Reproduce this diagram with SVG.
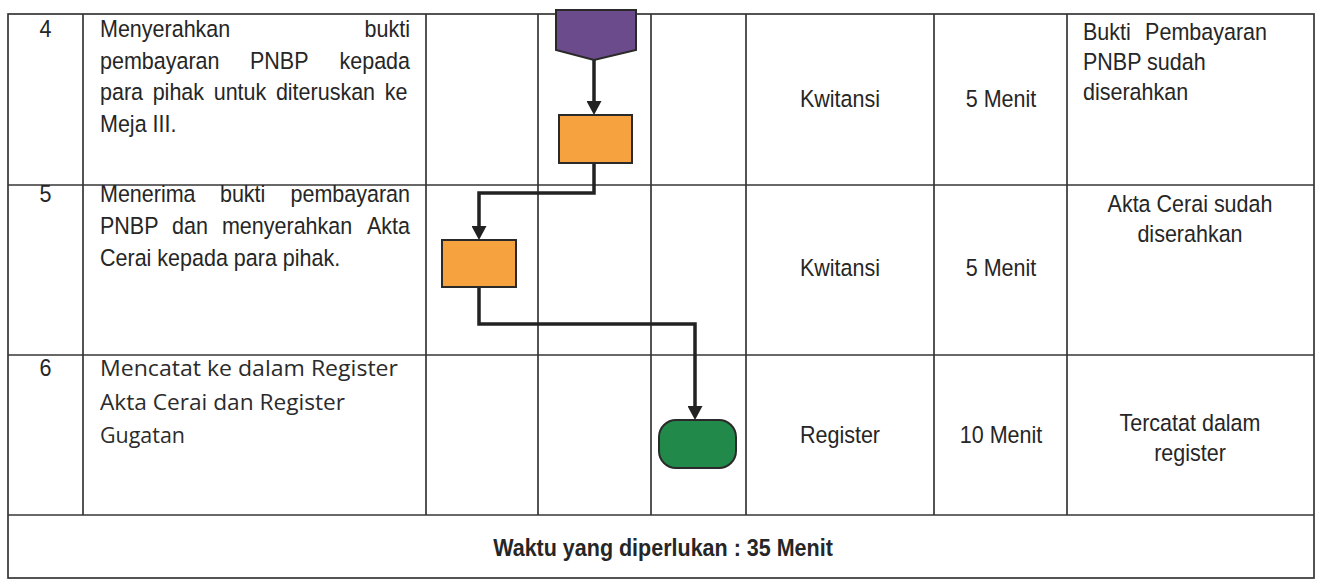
<svg xmlns="http://www.w3.org/2000/svg" width="1320" height="579" viewBox="0 0 1320 579">
<style>
.grid{stroke:#363636;stroke-width:1.7;fill:none}
.t{font-family:"Liberation Sans",Arial,sans-serif;font-size:23.5px;fill:#262626}
.c{text-anchor:middle}
.e{text-anchor:end}
.b{font-weight:bold}
.cal{font-family:"Open Sans","Noto Sans",sans-serif;font-size:21px;fill:#2b2b2b}
.conn{stroke:#222;stroke-width:3.5;fill:none;stroke-linejoin:miter}
.node{stroke:#2a2a2a;stroke-width:2}
</style>
<defs>
<marker id="arr" viewBox="0 0 14 15" refX="0" refY="7.5" markerWidth="14" markerHeight="15" markerUnits="userSpaceOnUse" orient="auto">
<path d="M0,0 L14,7.5 L0,15 z" fill="#222"/>
</marker>
</defs>
<rect width="1320" height="579" fill="#ffffff"/>
<g id="table">
<rect class="grid" x="8" y="14" width="1306" height="564"/>
<line class="grid" x1="8" y1="185" x2="1314" y2="185"/>
<line class="grid" x1="8" y1="355" x2="1314" y2="355"/>
<line class="grid" x1="8" y1="515" x2="1314" y2="515"/>
<line class="grid" x1="83" y1="14" x2="83" y2="515"/>
<line class="grid" x1="426" y1="14" x2="426" y2="515"/>
<line class="grid" x1="538" y1="14" x2="538" y2="515"/>
<line class="grid" x1="651" y1="14" x2="651" y2="515"/>
<line class="grid" x1="746" y1="14" x2="746" y2="515"/>
<line class="grid" x1="934" y1="14" x2="934" y2="515"/>
<line class="grid" x1="1067" y1="14" x2="1067" y2="515"/>
</g>
<g id="row4-text">
<text class="t c" transform="matrix(0.915,0,0,1,3.87,0)" x="45.5" y="37">4</text>
<text class="t" transform="matrix(0.915,0,0,1,8.5,0)" y="37"><tspan x="100">Menyerahkan</tspan><tspan x="438.8" text-anchor="end">bukti</tspan></text>
<text class="t" transform="matrix(0.915,0,0,1,8.5,0)" y="69"><tspan x="100">pembayaran</tspan><tspan x="263.9">PNBP</tspan><tspan x="438.8" text-anchor="end">kepada</tspan></text>
<text class="t" transform="matrix(0.915,0,0,1,8.5,0)" x="100" y="100" word-spacing="4">para pihak untuk diteruskan ke</text>
<text class="t" transform="matrix(0.915,0,0,1,8.5,0)" x="100" y="132">Meja III.</text>
<text class="t c" transform="matrix(0.915,0,0,1,71.4,0)" x="840" y="107">Kwitansi</text>
<text class="t c" transform="matrix(0.915,0,0,1,85.085,0)" x="1001" y="107">5 Menit</text>
<text class="t" transform="matrix(0.915,0,0,1,92.055,0)" y="40"><tspan x="1083">Bukti</tspan><tspan x="1284.1" text-anchor="end">Pembayaran</tspan></text>
<text class="t" transform="matrix(0.915,0,0,1,92.055,0)" x="1083" y="70">PNBP sudah</text>
<text class="t" transform="matrix(0.915,0,0,1,92.055,0)" x="1083" y="100">diserahkan</text>
</g>
<g id="row5-text">
<text class="t c" transform="matrix(0.915,0,0,1,3.87,0)" x="45.5" y="202">5</text>
<text class="t" transform="matrix(0.915,0,0,1,8.5,0)" y="202"><tspan x="100">Menerima</tspan><tspan x="231.1">bukti</tspan><tspan x="438.8" text-anchor="end">pembayaran</tspan></text>
<text class="t" transform="matrix(0.915,0,0,1,8.5,0)" y="234"><tspan x="100">PNBP</tspan><tspan x="178.7">dan</tspan><tspan x="233.3">menyerahkan</tspan><tspan x="438.8" text-anchor="end">Akta</tspan></text>
<text class="t" transform="matrix(0.915,0,0,1,8.5,0)" x="100" y="266">Cerai kepada para pihak.</text>
<text class="t c" transform="matrix(0.915,0,0,1,71.4,0)" x="840" y="276">Kwitansi</text>
<text class="t c" transform="matrix(0.915,0,0,1,85.085,0)" x="1001" y="276">5 Menit</text>
<text class="t c" transform="matrix(0.915,0,0,1,101.15,0)" x="1190" y="212">Akta Cerai sudah</text>
<text class="t c" transform="matrix(0.915,0,0,1,101.15,0)" x="1190" y="242">diserahkan</text>
</g>
<g id="row6-text">
<text class="t c" transform="matrix(0.915,0,0,1,3.87,0)" x="45.5" y="376">6</text>
<text class="cal" x="100" y="376" textLength="298" lengthAdjust="spacingAndGlyphs">Mencatat ke dalam Register</text>
<text class="cal" x="100" y="410" textLength="245" lengthAdjust="spacingAndGlyphs">Akta Cerai dan Register</text>
<text class="cal" x="100" y="443" textLength="85" lengthAdjust="spacingAndGlyphs">Gugatan</text>
<text class="t c" transform="matrix(0.915,0,0,1,71.4,0)" x="840" y="443">Register</text>
<text class="t c" transform="matrix(0.915,0,0,1,85.085,0)" x="1001" y="443">10 Menit</text>
<text class="t c" transform="matrix(0.915,0,0,1,101.15,0)" x="1190" y="431">Tercatat dalam</text>
<text class="t c" transform="matrix(0.915,0,0,1,101.15,0)" x="1190" y="461">register</text>
</g>
<g id="total">
<text class="t c b" transform="matrix(0.915,0,0,1,56.355,0)" x="663" y="556">Waktu yang diperlukan : 35 Menit</text>
</g>
<g id="connectors">
<path class="conn" d="M594,60 L594,101" marker-end="url(#arr)"/>
<path class="conn" d="M594,163 L594,193 L479,193 L479,226" marker-end="url(#arr)"/>
<path class="conn" d="M479,287 L479,324 L695,324 L695,406" marker-end="url(#arr)"/>
</g>
<g id="node-offpage">
<path class="node" d="M556,10 L636,10 L636,50 L594,60 L556,50 Z" fill="#6c4b8c"/>
</g>
<g id="node-box1">
<rect class="node" x="559" y="115" width="73" height="48" fill="#f5a23f"/>
</g>
<g id="node-box2">
<rect class="node" x="442" y="240" width="74" height="47" fill="#f5a23f"/>
</g>
<g id="node-end">
<rect class="node" x="659" y="420" width="77" height="48" rx="17" ry="17" fill="#218a4a"/>
</g>
</svg>
